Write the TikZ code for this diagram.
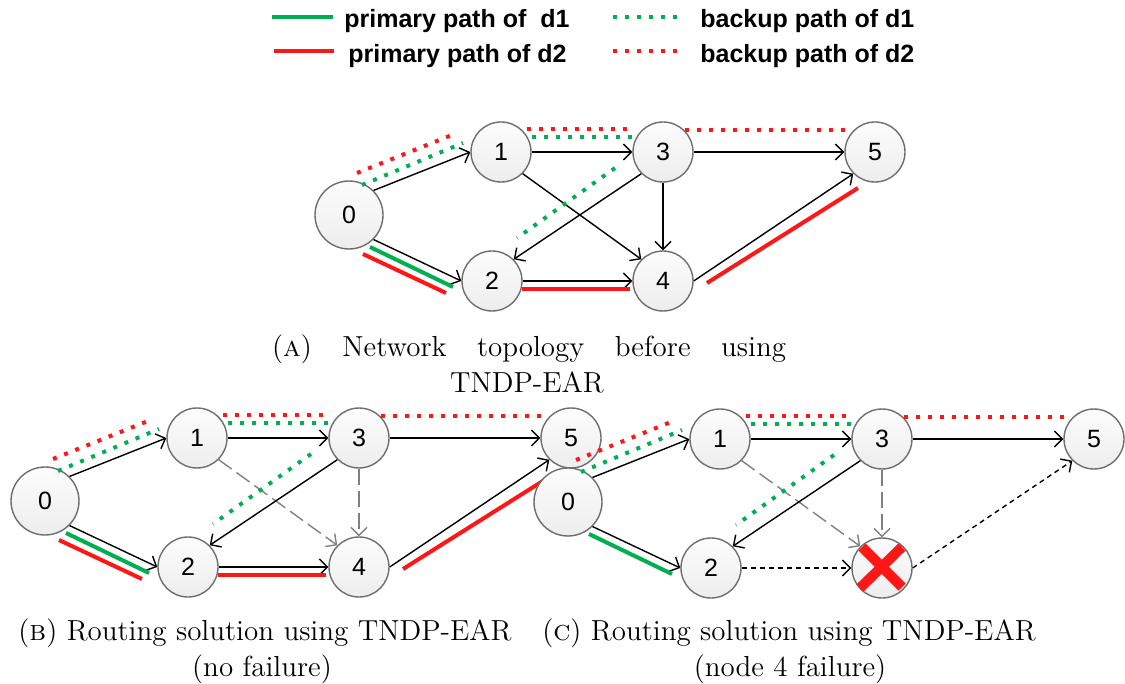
\documentclass[tikz,border=0pt]{standalone}
\usepackage{fontspec}
\newfontfamily\arialfont{Liberation Sans}
\usetikzlibrary{arrows.meta}

\definecolor{pathgreen}{RGB}{0,176,80}
\definecolor{pathred}{RGB}{255,22,22}
\definecolor{nodeline}{RGB}{110,110,110}

\tikzset{
  netnode/.style={circle, draw=nodeline, line width=0.7pt, top color=gray!2, bottom color=gray!14,
    minimum size=30pt, inner sep=0pt, font=\arialfont\fontsize{12.5}{12.5}\selectfont},
  bignode/.style={netnode, minimum size=34pt},
  link/.style={line width=0.7pt, -{Straight Barb[length=4pt,width=8pt]}},
  downlink/.style={link, gray, dash pattern=on 8pt off 3pt},
  faillink/.style={link, dash pattern=on 2.5pt off 2pt},
  primary/.style={line width=2pt},
  backup/.style={line width=2pt, dash pattern=on 2pt off 4pt},
  legendtext/.style={anchor=base west, inner sep=0pt, font=\arialfont\bfseries\fontsize{12.5}{14}\selectfont},
  captext/.style={anchor=base, inner sep=0pt, font=\fontsize{14.5}{18}\selectfont},
}

\begin{document}
\begin{tikzpicture}[x=0.5pt, y=-0.5pt]
    \useasboundingbox (0,0) rectangle (1125,684);

    % Legend
    \draw[primary, pathgreen] (272,17) -- (333,17);
    \node[legendtext] (leg1) at (344,28) {primary path of\ \ d1};
    \draw[primary, pathred] (274,51) -- (334,51);
    \node[legendtext] (leg2) at (348,63) {primary path of d2};
    \draw[backup, pathgreen] (613,17) -- (683,17);
    \node[legendtext] (leg3) at (700,28) {backup path of d1};
    \draw[backup, pathred] (613,51) -- (683,51);
    \node[legendtext] (leg4) at (700,63) {backup path of d2};

    % (a) Network topology
    \node[bignode] (a0) at (349,215) {0};
    \node[netnode] (a1) at (501,152) {1};
    \node[netnode] (a2) at (492,281) {2};
    \node[netnode] (a3) at (663,152) {3};
    \node[netnode] (a4) at (663,281) {4};
    \node[netnode] (a5) at (875,152) {5};
    \draw[link] (a0.north east) -- (a1.west);
    \draw[link] (a0.south east) -- (a2.west);
    \draw[link] (a1.east) -- (a3.west);
    \draw[link] (a1.south east) -- (a4.north west);
    \draw[link] (a3.east) -- (a5.west);
    \draw[link] (a3.south west) -- (a2.north east);
    \draw[link] (a3.south) -- (a4.north);
    \draw[link] (a2.east) -- (a4.west);
    \draw[link] (a4.east) -- (a5.south west);
    \draw[backup, pathred] (357,173) -- (457,133);
    \draw[backup, pathred] (527,129) -- (633,129);
    \draw[backup, pathred] (685,130) -- (847,130);
    \draw[backup, pathgreen] (362,185) -- (463,143);
    \draw[backup, pathgreen] (532,137) -- (633,137);
    \draw[backup, pathgreen] (615,168) -- (517,238);
    \draw[primary, pathgreen] (370,247) -- (453,287);
    \draw[primary, pathred] (363,254) -- (446,293);
    \draw[primary, pathred] (522,289) -- (630,289);
    \draw[primary, pathred] (707,283) -- (858,188);

    % (b) no failure
    \begin{scope}[shift={(-304,286)}]
        \node[bignode] (b0) at (349,215) {0};
        \node[netnode] (b1) at (501,152) {1};
        \node[netnode] (b2) at (492,281) {2};
        \node[netnode] (b3) at (663,152) {3};
        \node[netnode] (b4) at (663,281) {4};
        \node[netnode] (b5) at (875,152) {5};
        \draw[link] (b0.north east) -- (b1.west);
        \draw[link] (b0.south east) -- (b2.west);
        \draw[link] (b1.east) -- (b3.west);
        \draw[downlink] (b1.south east) -- (b4.north west);
        \draw[link] (b3.east) -- (b5.west);
        \draw[link] (b3.south west) -- (b2.north east);
        \draw[downlink] (b3.south) -- (b4.north);
        \draw[link] (b2.east) -- (b4.west);
        \draw[link] (b4.east) -- (b5.south west);
        \draw[backup, pathred] (357,173) -- (457,133);
        \draw[backup, pathred] (527,129) -- (633,129);
        \draw[backup, pathred] (685,130) -- (847,130);
        \draw[backup, pathgreen] (362,185) -- (463,143);
        \draw[backup, pathgreen] (532,137) -- (633,137);
        \draw[backup, pathgreen] (615,168) -- (517,238);
        \draw[primary, pathgreen] (370,247) -- (453,287);
        \draw[primary, pathred] (363,254) -- (446,293);
        \draw[primary, pathred] (522,289) -- (630,289);
        \draw[primary, pathred] (707,283) -- (858,188);
    \end{scope}

    % (c) node 4 failure
    \begin{scope}[shift={(219,287)}]
        \node[bignode] (c0) at (349,215) {0};
        \node[netnode] (c1) at (501,152) {1};
        \node[netnode] (c2) at (492,281) {2};
        \node[netnode] (c3) at (663,152) {3};
        \node[netnode] (c4) at (663,281) {};
        \node[netnode] (c5) at (875,152) {5};
        \draw[link] (c0.north east) -- (c1.west);
        \draw[link] (c0.south east) -- (c2.west);
        \draw[link] (c1.east) -- (c3.west);
        \draw[downlink] (c1.south east) -- (c4.north west);
        \draw[link] (c3.east) -- (c5.west);
        \draw[link] (c3.south west) -- (c2.north east);
        \draw[downlink] (c3.south) -- (c4.north);
        \draw[faillink] (c2.east) -- (c4.west);
        \draw[faillink] (c4.east) -- (c5.south west);
        \draw[pathred, line width=5pt] ([shift={(-20,-21)}]c4.center) -- ([shift={(20,19)}]c4.center);
        \draw[pathred, line width=5pt] ([shift={(20,-21)}]c4.center) -- ([shift={(-22,20)}]c4.center);
        \draw[backup, pathred] (357,173) -- (457,133);
        \draw[backup, pathred] (527,129) -- (633,129);
        \draw[backup, pathred] (685,130) -- (847,130);
        \draw[backup, pathgreen] (362,185) -- (463,143);
        \draw[backup, pathgreen] (532,137) -- (633,137);
        \draw[backup, pathgreen] (615,168) -- (517,238);
        \draw[primary, pathgreen] (370,247) -- (453,287);
    \end{scope}

    % Captions
    \node[captext] (capa1) at (529,357) {\makebox[257pt][s]{(\textsc{a}) Network topology before using}};
    \node[captext] (capa2) at (527,393) {TNDP-EAR};
    \node[captext] (capb1) at (265,640) {(\textsc{b}) Routing solution using TNDP-EAR};
    \node[captext] (capb2) at (262,676) {(no failure)};
    \node[captext] (capc1) at (789,640) {(\textsc{c}) Routing solution using TNDP-EAR};
    \node[captext] (capc2) at (790,676) {(node 4 failure)};
\end{tikzpicture}
\end{document}
